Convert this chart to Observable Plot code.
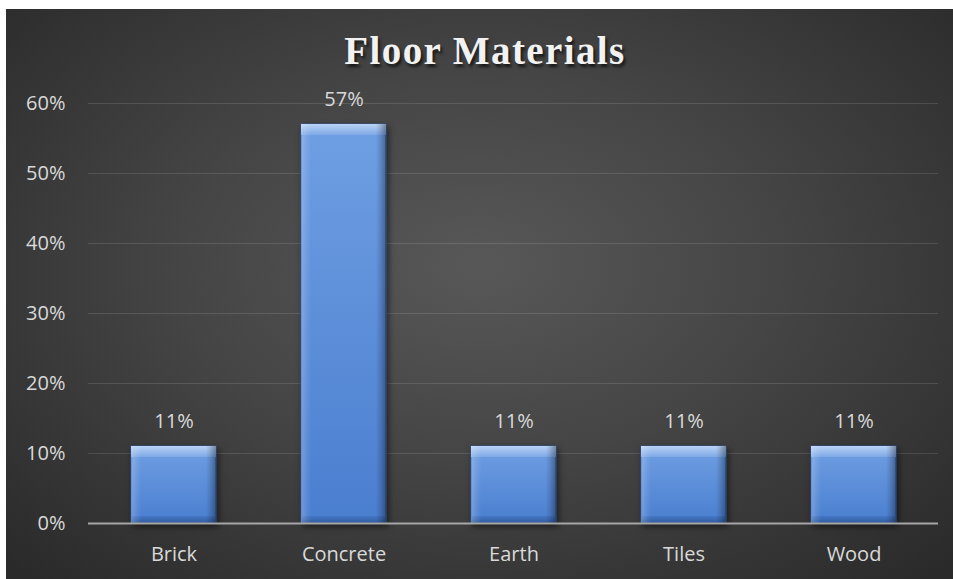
<!DOCTYPE html>
<html>
<head>
<meta charset="utf-8">
<script src="https://cdn.jsdelivr.net/npm/d3@7"></script>
<script src="https://cdn.jsdelivr.net/npm/@observablehq/plot@0.6"></script>
<style>
  html, body { margin: 0; padding: 0; background: #ffffff; }
  #wrap { position: relative; width: 953px; height: 579px; overflow: hidden; }
  #bg { position: absolute; left: 6px; top: 9px; width: 947px; height: 570px;
        background: radial-gradient(ellipse 70% 75% at 50% 45%, #585858 0%, #454545 45%, #2a2a2a 100%); }
  #title { position: absolute; left: 235px; width: 500px; top: 31px; text-align: center;
           font-family: "Liberation Serif", "DejaVu Serif", serif; font-weight: bold; font-size: 39px;
           line-height: 1; letter-spacing: 1.4px; color: #f2f2f2;
           text-shadow: 2px 3px 3px rgba(0,0,0,0.65); }
  #chart { position: absolute; left: 0; top: 0; }
</style>
</head>
<body>
<div id="wrap">
  <div id="bg"></div>
  <div id="title">Floor Materials</div>
  <div id="chart"></div>
</div>
<script>
const categories = ["Brick", "Concrete", "Earth", "Tiles", "Wood"];
const values = [0.11, 0.57, 0.11, 0.11, 0.11];
const yTicks = [0, 0.1, 0.2, 0.3, 0.4, 0.5, 0.6];

const data = categories.map((c, i) => ({cat: c, value: values[i]}));
const pct = d => Math.round(d * 100) + "%";
const textColor = "#d9d9d9";

const chart = Plot.plot({
  width: 953,
  height: 579,
  marginLeft: 88,
  marginRight: 15,
  marginTop: 103,
  marginBottom: 56,
  style: {background: "transparent", fontFamily: "'Open Sans', sans-serif", fontSize: "20px", color: textColor},
  x: {domain: categories, paddingInner: 0.5, paddingOuter: 0.25, axis: null},
  y: {domain: [0, 0.6], axis: null},
  marks: [
    Plot.ruleY(yTicks.filter(d => d > 0), {stroke: "#ffffff", strokeOpacity: 0.12, strokeWidth: 1}),
    // main bar body
    Plot.barY(data, {x: "cat", y: "value", fill: "url(#bodyGrad)", stroke: "#30589a", strokeWidth: 1}),
    // top bevel
    Plot.barY(data, {x: "cat", y1: "value", y2: "value", insetBottom: -11, fill: "url(#topGrad)"}),
    // bottom bevel
    Plot.barY(data, {x: "cat", y1: d => 0, y2: d => 0, insetTop: -7, fill: "url(#botGrad)"}),
    // side bevels
    Plot.barY(data, {x: "cat", y: "value", fill: "url(#sideGrad)"}),
    Plot.ruleY([0], {stroke: "#a6a6a6", strokeWidth: 2}),
    // value labels
    Plot.text(data, {x: "cat", y: "value", text: d => pct(d.value), dy: -25, fill: textColor, fontSize: 20}),
    // y tick labels
    Plot.text(yTicks, {y: d => d, frameAnchor: "left", dx: -23, textAnchor: "end", text: d => pct(d), fill: textColor, fontSize: 20}),
    // x tick labels
    Plot.text(categories, {x: d => d, y: d => 0, dy: 31, text: d => d, fill: textColor, fontSize: 20})
  ]
});

document.getElementById("chart").appendChild(chart);

(function () {
  const svg = d3.select(chart.tagName.toLowerCase() === "svg" ? chart : chart.querySelector("svg"));
  const defs = svg.insert("defs", ":first-child");

  const bodyG = defs.append("linearGradient").attr("id", "bodyGrad").attr("x1", 0).attr("y1", 0).attr("x2", 0).attr("y2", 1);
  bodyG.append("stop").attr("offset", "0").attr("stop-color", "#6f9fe3");
  bodyG.append("stop").attr("offset", "1").attr("stop-color", "#4a7ecf");

  const topG = defs.append("linearGradient").attr("id", "topGrad").attr("x1", 0).attr("y1", 0).attr("x2", 0).attr("y2", 1);
  topG.append("stop").attr("offset", "0").attr("stop-color", "#b9d3f5");
  topG.append("stop").attr("offset", "1").attr("stop-color", "#7ea8e6");

  const botG = defs.append("linearGradient").attr("id", "botGrad").attr("x1", 0).attr("y1", 0).attr("x2", 0).attr("y2", 1);
  botG.append("stop").attr("offset", "0").attr("stop-color", "#3f70bd").attr("stop-opacity", 0.6);
  botG.append("stop").attr("offset", "1").attr("stop-color", "#2d5696").attr("stop-opacity", 0.9);

  const sideG = defs.append("linearGradient").attr("id", "sideGrad").attr("x1", 0).attr("y1", 0).attr("x2", 1).attr("y2", 0);
  [[0, "#ffffff", 0.22], [0.08, "#ffffff", 0.06], [0.12, "#ffffff", 0], [0.88, "#000000", 0], [0.93, "#000000", 0.12], [1, "#000000", 0.35]]
    .forEach(([o, c, a]) => sideG.append("stop").attr("offset", o).attr("stop-color", c).attr("stop-opacity", a));

  const barGroups = svg.selectAll("g[aria-label='bar']").nodes();
  if (barGroups.length) d3.select(barGroups[0]).style("filter", "drop-shadow(2px 3px 3px rgba(0,0,0,0.55))");
})();
</script>
</body>
</html>
